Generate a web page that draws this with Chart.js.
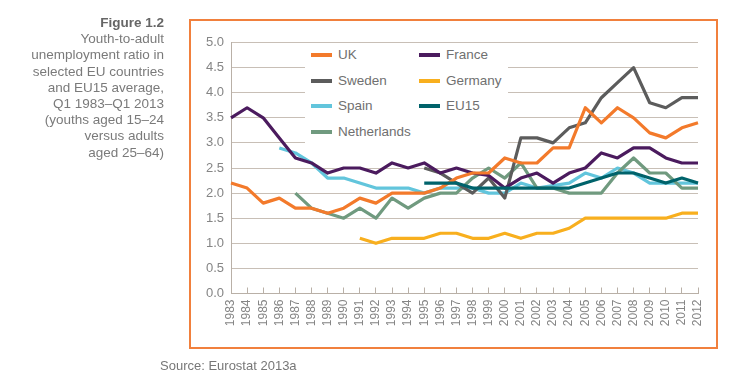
<!DOCTYPE html>
<html>
<head>
<meta charset="utf-8">
<script src="https://cdn.jsdelivr.net/npm/chart.js@4/dist/chart.umd.min.js"></script>
<style>
  html, body { margin: 0; padding: 0; background: #fff; }
  body { width: 750px; height: 383px; position: relative; overflow: hidden;
         font-family: "Liberation Sans", Arial, sans-serif; color: #777; }
  #chart { position: absolute; left: 0; top: 0; }
  #frame { position: absolute; left: 189px; top: 19px; width: 525px; height: 326px;
           border: 2px solid #f1803d; pointer-events: none; }
  #caption { position: absolute; right: 586px; top: 15px; text-align: right;
             font-size: 13.5px; line-height: 16.2px; color: #7a7a7a; }
  #caption b { color: #666; font-weight: bold; }
  #source { position: absolute; left: 160px; top: 358px; font-size: 13px; color: #777; }
  #legend { position: absolute; left: 305px; top: 46px; width: 203px; height: 102px; background: #fff; }
  .li { position: absolute; font-size: 13.5px; color: #707070; line-height: 16px; white-space: nowrap; }
  .li i { position: absolute; left: -27px; top: 6px; width: 21px; height: 4px; }
</style>
</head>
<body>
<canvas id="chart" width="750" height="383"></canvas>
<div id="frame"></div>
<div id="caption"><b>Figure 1.2</b><br>Youth-to-adult<br>unemployment ratio in<br>selected EU countries<br>and EU15 average,<br>Q1 1983–Q1 2013<br>(youths aged 15–24<br>versus adults<br>aged 25–64)</div>
<div id="source">Source: Eurostat 2013a</div>
<div id="legend"></div>
<script>
const years = ["1983","1984","1985","1986","1987","1988","1989","1990","1991","1992",
  "1993","1994","1995","1996","1997","1998","1999","2000","2001","2002",
  "2003","2004","2005","2006","2007","2008","2009","2010","2011","2012"];
const yTicks = [0, 0.5, 1, 1.5, 2, 2.5, 3, 3.5, 4, 4.5, 5];

const uk = [2.2,2.1,1.8,1.9,1.7,1.7,1.6,1.7,1.9,1.8,
  2.0,2.0,2.0,2.1,2.3,2.4,2.4,2.7,2.6,2.6,
  2.9,2.9,3.7,3.4,3.7,3.5,3.2,3.1,3.3,3.4];
const france = [3.5,3.7,3.5,3.1,2.7,2.6,2.4,2.5,2.5,2.4,
  2.6,2.5,2.6,2.4,2.5,2.4,2.35,2.1,2.3,2.4,
  2.2,2.4,2.5,2.8,2.7,2.9,2.9,2.7,2.6,2.6];
const sweden = [null,null,null,null,null,null,null,null,null,null,
  null,null,2.5,2.4,2.2,2.0,2.3,1.9,3.1,3.1,
  3.0,3.3,3.4,3.9,4.2,4.5,3.8,3.7,3.9,3.9];
const germany = [null,null,null,null,null,null,null,null,1.1,1.0,
  1.1,1.1,1.1,1.2,1.2,1.1,1.1,1.2,1.1,1.2,
  1.2,1.3,1.5,1.5,1.5,1.5,1.5,1.5,1.6,1.6];
const spain = [null,null,null,2.9,2.8,2.6,2.3,2.3,2.2,2.1,
  2.1,2.1,2.0,2.1,2.1,2.1,2.0,2.0,2.2,2.1,
  2.15,2.2,2.4,2.3,2.5,2.4,2.2,2.2,2.2,2.2];
const eu15 = [null,null,null,null,null,null,null,null,null,null,
  null,null,2.2,2.2,2.2,2.1,2.1,2.1,2.1,2.1,
  2.1,2.1,2.2,2.3,2.4,2.4,2.3,2.2,2.3,2.2];
const netherlands = [null,null,null,null,2.0,1.7,1.6,1.5,1.7,1.5,
  1.9,1.7,1.9,2.0,2.0,2.3,2.5,2.3,2.6,2.1,
  2.1,2.0,2.0,2.0,2.4,2.7,2.4,2.4,2.1,2.1];

const seriesNames = ["UK","France","Sweden","Germany","Spain","EU15","Netherlands"];
const seriesData = [uk, france, sweden, germany, spain, eu15, netherlands];
const seriesColors = ["#f37a2b","#4b1b5e","#5c5c5c","#f8af1e","#62c5dc","#00636b","#709a7f"];
const seriesOrder = [1, 2, 3, 6, 5, 0, 4];

const datasets = seriesNames.map((n, i) => ({
  label: n, data: seriesData[i], borderColor: seriesColors[i], backgroundColor: seriesColors[i],
  borderWidth: 3.2, pointRadius: 0, tension: 0, spanGaps: false, fill: false,
  order: seriesOrder[i], borderJoinStyle: 'round'
}));

// HTML legend, two columns
const leg = document.getElementById('legend');
seriesNames.forEach((n, i) => {
  const col = i % 2, row = Math.floor(i / 2);
  const d = document.createElement('div');
  d.className = 'li';
  d.style.left = (col === 0 ? 33 : 141) + 'px';
  d.style.top = (1 + row * 25.7) + 'px';
  d.innerHTML = '<i style="background:' + seriesColors[i] + '"></i>' + n;
  leg.appendChild(d);
});

const gridCol = '#c8bfb6';
new Chart(document.getElementById('chart'), {
  type: 'line',
  data: { labels: years, datasets },
  options: {
    responsive: false, animation: false, devicePixelRatio: 1,
    layout: { padding: { left: 195, top: 42.5, right: 52, bottom: 40 } },
    plugins: { legend: { display: false }, tooltip: { enabled: false } },
    scales: {
      y: {
        min: 0, max: 5,
        afterBuildTicks: (s) => { s.ticks = yTicks.map(v => ({ value: v })); },
        afterFit: (s) => { s.width = 36; },
        ticks: { callback: (v) => Number(v).toFixed(1), color: '#858585', padding: 7,
                 font: { family: 'Liberation Sans', size: 13 } },
        grid: { color: gridCol, lineWidth: 1, drawTicks: false },
        border: { color: '#b9b0a7', width: 1 }
      },
      x: {
        afterFit: (s) => { s.height = 49.5; },
        ticks: { autoSkip: false, maxRotation: 90, minRotation: 90, color: '#858585', padding: 12,
                 font: { family: 'Liberation Sans', size: 12 } },
        grid: { drawOnChartArea: false, drawTicks: true, tickLength: -6, color: '#b9b0a7' },
        border: { color: '#b9b0a7', width: 1 }
      }
    }
  }
});
</script>
</body>
</html>
